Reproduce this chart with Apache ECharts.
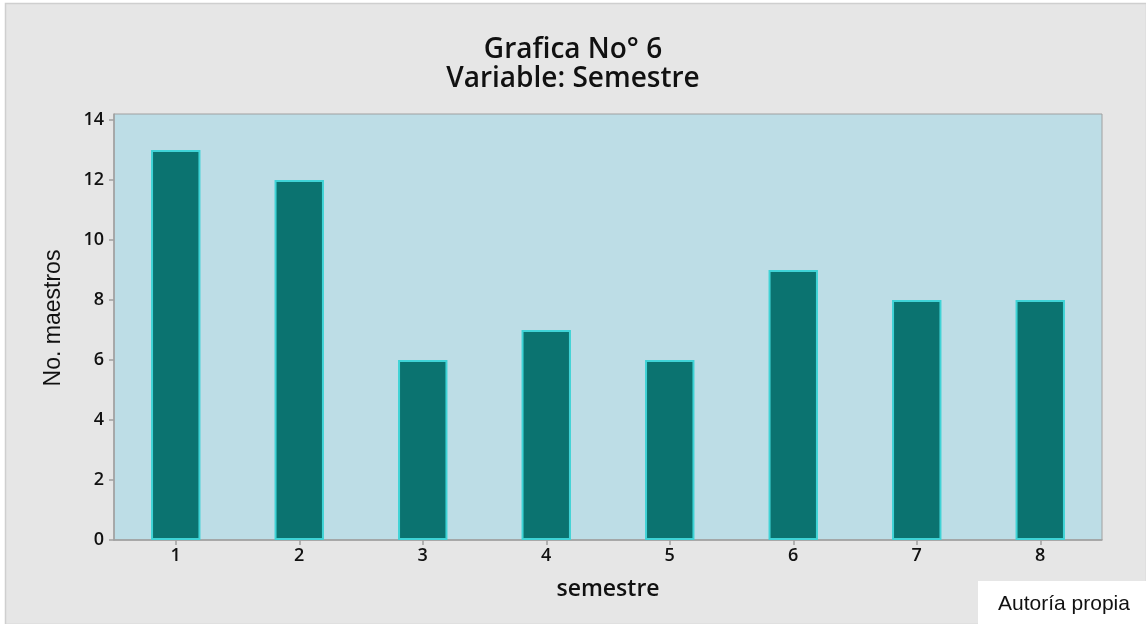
<!DOCTYPE html>
<html><head><meta charset="utf-8">
<script src="https://cdn.jsdelivr.net/npm/echarts@6/dist/echarts.min.js"></script>
<style>html,body{margin:0;padding:0;background:#fff}#c{width:1146px;height:624px}</style>
</head><body><div id="c"></div>
<script>
const categories = ['1','2','3','4','5','6','7','8'];
const values = [13, 12, 6, 7, 6, 9, 8, 8];
const yTickValues = [0, 2, 4, 6, 8, 10, 12, 14];
const yMax = 14.2;
const chart = echarts.init(document.getElementById('c'));
chart.setOption({
  animation: false,
  backgroundColor: '#ffffff',
  graphic: [
    {type:'rect', shape:{x:5.5,y:3.5,width:1141,height:621}, style:{fill:'#e6e6e6', stroke:'#cfcfcf', lineWidth:1.5}, z:-10},
    {type:'rect', shape:{x:978,y:581,width:168,height:43}, style:{fill:'#ffffff'}, z:10},
    {type:'text', x:1064, y:604, style:{text:'Autoría propia', fill:'#111', font:'21px "Liberation Sans", Arial, sans-serif', textAlign:'center', textVerticalAlign:'middle'}, z:11},
    {type:'text', x:54, y:318, rotation:Math.PI/2, style:{text:'No. maestros', fill:'#111', font:'23px "Liberation Sans", Arial, sans-serif', textAlign:'center', textVerticalAlign:'middle'}, z:11}
  ],
  title: {
    text: 'Grafica No° 6\nVariable: Semestre',
    left: 'center', top: 31,
    textStyle: {fontFamily:'"Open Sans", "Noto Sans", sans-serif', fontWeight: 600, fontSize: 28, lineHeight: 29, color:'#111'}
  },
  grid: {left:114, top:114, right:44, bottom:84, show:true, backgroundColor:'#bddde6', borderColor:'#a0a0a0', borderWidth:1},
  xAxis: {
    type:'category', data: categories,
    name:'semestre', nameLocation:'middle', nameGap:38,
    nameTextStyle:{fontFamily:'"Open Sans", "Noto Sans", sans-serif', fontWeight:600, fontSize:23, color:'#111'},
    axisLine:{show:true, lineStyle:{color:'#a0a0a0', width:1.5}},
    axisTick:{show:true, alignWithLabel:true, length:5, lineStyle:{color:'#a0a0a0', width:1.5}},
    axisLabel:{fontFamily:'"Open Sans", "Noto Sans", sans-serif', fontWeight:600, fontSize:18, color:'#111', margin:7}
  },
  yAxis: {
    type:'value', min:0, max:yMax, interval:2,
    axisLine:{show:true, lineStyle:{color:'#a0a0a0', width:1.5}},
    axisTick:{show:true, length:5, customValues: yTickValues, lineStyle:{color:'#a0a0a0', width:1.5}},
    splitLine:{show:false},
    axisLabel:{fontFamily:'"Open Sans", "Noto Sans", sans-serif', fontWeight:600, fontSize:18, color:'#111', margin:10, customValues: yTickValues}
  },
  series: [{
    type:'bar', data: values, barWidth:'40%',
    itemStyle:{color:'#0b7370', borderColor:'#3fd3d6', borderWidth:2}
  }]
});
</script></body></html>
